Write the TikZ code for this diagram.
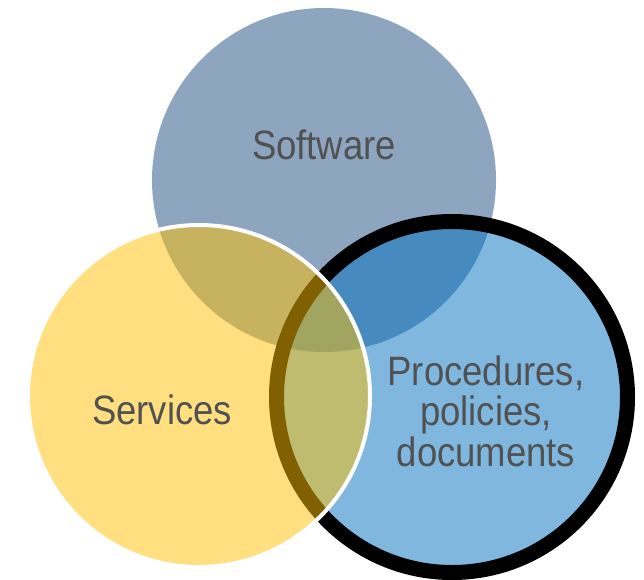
\documentclass[tikz,border=0pt]{standalone}
\usepackage{fontspec}
\setmainfont{Liberation Sans}[FakeStretch=0.89]
\definecolor{softgray}{RGB}{142,165,192}
\definecolor{procblue}{RGB}{0,112,192}
\definecolor{servyellow}{RGB}{255,192,0}
\definecolor{labelgray}{RGB}{81,81,81}
\begin{document}
\begin{tikzpicture}[x=1pt,y=-1pt,
  circlelabel/.style={text=labelgray,font=\fontsize{41}{40.5}\selectfont,inner sep=0pt,align=center},
  softcircle/.style={circle,fill=softgray,minimum size=344pt,inner sep=0pt},
  proccircle/.style={circle,fill=procblue,fill opacity=0.5,draw=black,draw opacity=1,line width=15pt,minimum size=351pt,inner sep=0pt},
  servcircle/.style={circle,fill=servyellow,fill opacity=0.5,draw=white,draw opacity=1,line width=4pt,minimum size=342pt,inner sep=0pt}]
\useasboundingbox (0,0) rectangle (644,579);
\node[softcircle] (soft) at (324,180) {};
\node[proccircle] (proc) at (452,397) {};
\node[servcircle] (serv) at (199,396) {};
\node[circlelabel,anchor=base] (softlabel) at (324,159) {Software};
\node[circlelabel,anchor=base] (servlabel) at (162,424) {Services};
\node[circlelabel,anchor=center] (proclabel) at (486,411) {Procedures,\\policies,\\documents};
\end{tikzpicture}
\end{document}
